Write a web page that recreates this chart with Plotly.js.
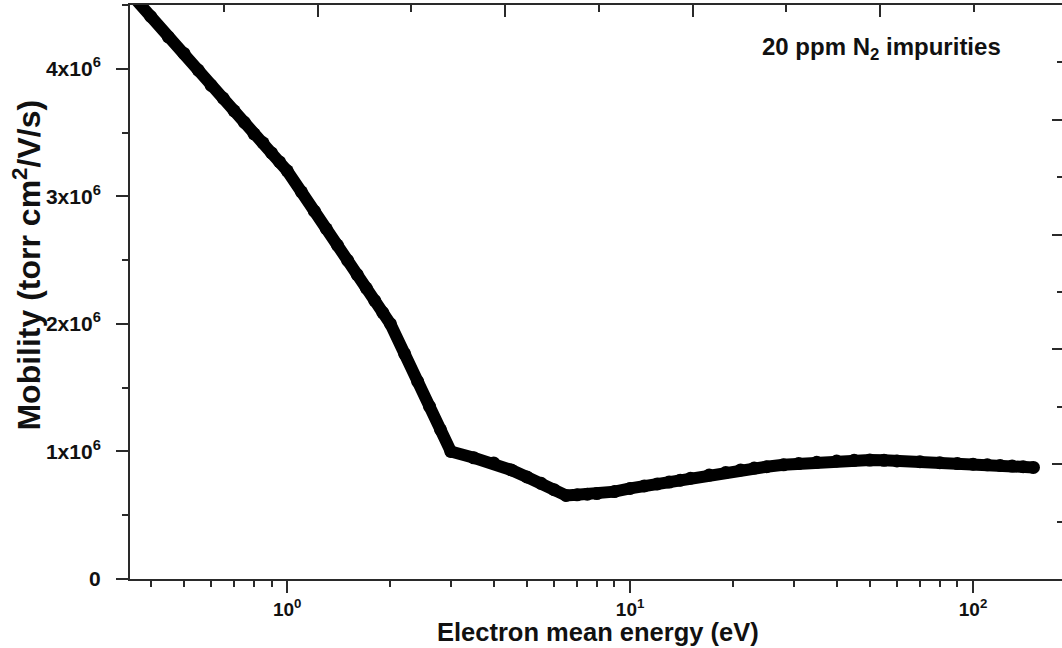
<!DOCTYPE html>
<html>
<head>
<meta charset="utf-8">
<script src="https://cdn.plot.ly/plotly-3.0.1.min.js"></script>
<style>
html, body { margin: 0; padding: 0; background: #fff; overflow: hidden; }
#chart { width: 1062px; height: 648px; }
</style>
</head>
<body>
<div id="chart"></div>
<script>
// Electron mean energy (eV)
const energy = [0.3, 0.35, 0.4, 0.45, 0.5, 0.55, 0.6, 0.65, 0.7, 0.75, 0.8, 0.85, 0.9, 0.95,
  1.0, 1.1, 1.2, 1.3, 1.4, 1.5, 1.6, 1.7, 1.8, 1.9,
  2.0, 2.2, 2.4, 2.6, 2.8, 3.0, 3.5, 4.0, 4.5, 5.0, 5.5, 6.0, 6.5, 7.0, 7.5, 8, 9,
  10, 11, 12, 13, 14, 15, 17, 19, 21, 23, 25, 28, 31, 35, 40, 45, 50, 55, 60,
  70, 80, 90, 100, 110, 120, 130, 140, 150];
// Mobility (torr cm^2/V/s)
const mobility = [4.79e6, 4.59e6, 4.41e6, 4.25e6, 4.12e6, 3.99e6, 3.87e6, 3.77e6, 3.67e6, 3.58e6, 3.49e6, 3.42e6, 3.34e6, 3.27e6,
  3.20e6, 3.035e6, 2.884e6, 2.746e6, 2.618e6, 2.498e6, 2.386e6, 2.281e6, 2.182e6, 2.089e6,
  2.00e6, 1.765e6, 1.55e6, 1.353e6, 1.17e6, 1.00e6, 0.95e6, 0.91e6, 0.855e6, 0.80e6, 0.75e6, 0.70e6, 0.655e6, 0.66e6, 0.665e6, 0.67e6, 0.685e6,
  0.71e6, 0.73e6, 0.745e6, 0.76e6, 0.775e6, 0.79e6, 0.815e6, 0.835e6, 0.855e6, 0.87e6, 0.88e6, 0.895e6, 0.905e6, 0.915e6, 0.925e6, 0.93e6, 0.932e6, 0.93e6, 0.926e6,
  0.92e6, 0.912e6, 0.905e6, 0.90e6, 0.895e6, 0.89e6, 0.885e6, 0.88e6, 0.875e6];

const yTickVals = [0, 1e6, 2e6, 3e6, 4e6];
const yTickText = ['0', '1x10<sup>6</sup>', '2x10<sup>6</sup>', '3x10<sup>6</sup>', '4x10<sup>6</sup>'];
const xTickVals = [1, 10, 100];
const xTickText = ['10<sup>0</sup>', '10<sup>1</sup>', '10<sup>2</sup>'];
const xMinorVals = [0.4, 0.5, 0.6, 0.7, 0.8, 0.9, 2, 3, 4, 5, 6, 7, 8, 9, 20, 30, 40, 50, 60, 70, 80, 90];

const axisColor = '#2a2a2a';
const fontFam = '"Liberation Sans", Arial, sans-serif';

const trace = {
  x: energy, y: mobility, type: 'scatter', mode: 'lines+markers',
  line: { color: '#000', width: 12 },
  marker: { color: '#000', size: 13, symbol: 'circle' },
  showlegend: false, hoverinfo: 'x+y'
};
// invisible traces to activate the secondary frame axes
const dummyTop = { x: [0], y: [0], xaxis: 'x2', yaxis: 'y', mode: 'markers', marker: { opacity: 0 }, showlegend: false, hoverinfo: 'skip' };
const dummyRight = { x: [1], y: [0], xaxis: 'x', yaxis: 'y2', mode: 'markers', marker: { opacity: 0 }, showlegend: false, hoverinfo: 'skip' };

const layout = {
  width: 1062, height: 648,
  margin: { l: 130, r: 0, t: 5, b: 69 },
  paper_bgcolor: '#fff', plot_bgcolor: '#fff',
  font: { family: fontFam, color: '#111' },
  xaxis: {
    type: 'log', range: [Math.log10(0.348), Math.log10(181.7)],
    showgrid: false, zeroline: false,
    showline: true, linecolor: axisColor, linewidth: 2,
    ticks: 'outside', ticklen: 12, tickwidth: 2, tickcolor: axisColor,
    tickmode: 'array', tickvals: xTickVals, ticktext: xTickText,
    tickfont: { size: 19, weight: 'bold', family: fontFam, color: '#111' },
    minor: { tickmode: 'array', tickvals: xMinorVals, ticks: 'outside', ticklen: 6, tickwidth: 2, tickcolor: axisColor, showgrid: false }
  },
  xaxis2: {
    overlaying: 'x', side: 'top', range: [0, 4.97],
    showgrid: false, zeroline: false,
    showline: true, linecolor: axisColor, linewidth: 2,
    ticks: 'inside', ticklen: 12, tickwidth: 2, tickcolor: axisColor,
    dtick: 1, tick0: 0, showticklabels: false,
    minor: { dtick: 0.5, tick0: 0, ticks: 'inside', ticklen: 7, tickwidth: 2, tickcolor: axisColor, showgrid: false }
  },
  yaxis: {
    range: [0, 4.5e6],
    showgrid: false, zeroline: false,
    showline: true, linecolor: axisColor, linewidth: 2,
    ticks: 'outside', ticklen: 12, tickwidth: 2, tickcolor: axisColor,
    tickmode: 'array', tickvals: yTickVals, ticktext: yTickText,
    ticklabelstandoff: 11,
    tickfont: { size: 21, weight: 'bold', family: fontFam, color: '#111' },
    minor: { dtick: 5e5, tick0: 0, ticks: 'outside', ticklen: 6, tickwidth: 2, tickcolor: axisColor, showgrid: false }
  },
  yaxis2: {
    overlaying: 'y', side: 'right', range: [0, 5],
    showgrid: false, zeroline: false, showline: false,
    ticks: 'inside', ticklen: 10, tickwidth: 2, tickcolor: axisColor,
    dtick: 1, tick0: 0, showticklabels: false,
    minor: { dtick: 0.5, tick0: 0, ticks: 'inside', ticklen: 5, tickwidth: 2, tickcolor: axisColor, showgrid: false }
  },
  annotations: [
    { text: 'Electron mean energy (eV)', xref: 'paper', yref: 'paper',
      x: 0.502, y: -0.0923, xanchor: 'center', yanchor: 'middle', showarrow: false, borderpad: 0,
      font: { size: 25.5, weight: 'bold', family: fontFam, color: '#111' } },
    { text: 'Mobility (torr cm<sup>2</sup>/V/s)', textangle: -90, xref: 'paper', yref: 'paper',
      x: -0.111, y: 0.547, xanchor: 'center', yanchor: 'middle', showarrow: false,
      font: { size: 32, weight: 'bold', family: fontFam, color: '#111' } },
    { text: '20 ppm N<sub>2</sub> impurities', xref: 'paper', yref: 'paper',
      x: 0.806, y: 0.925, xanchor: 'center', yanchor: 'middle', showarrow: false,
      font: { size: 24, weight: 'bold', family: fontFam, color: '#111' } }
  ]
};

Plotly.newPlot('chart', [trace, dummyTop, dummyRight], layout, { displayModeBar: false, staticPlot: true });
</script>
</body>
</html>
